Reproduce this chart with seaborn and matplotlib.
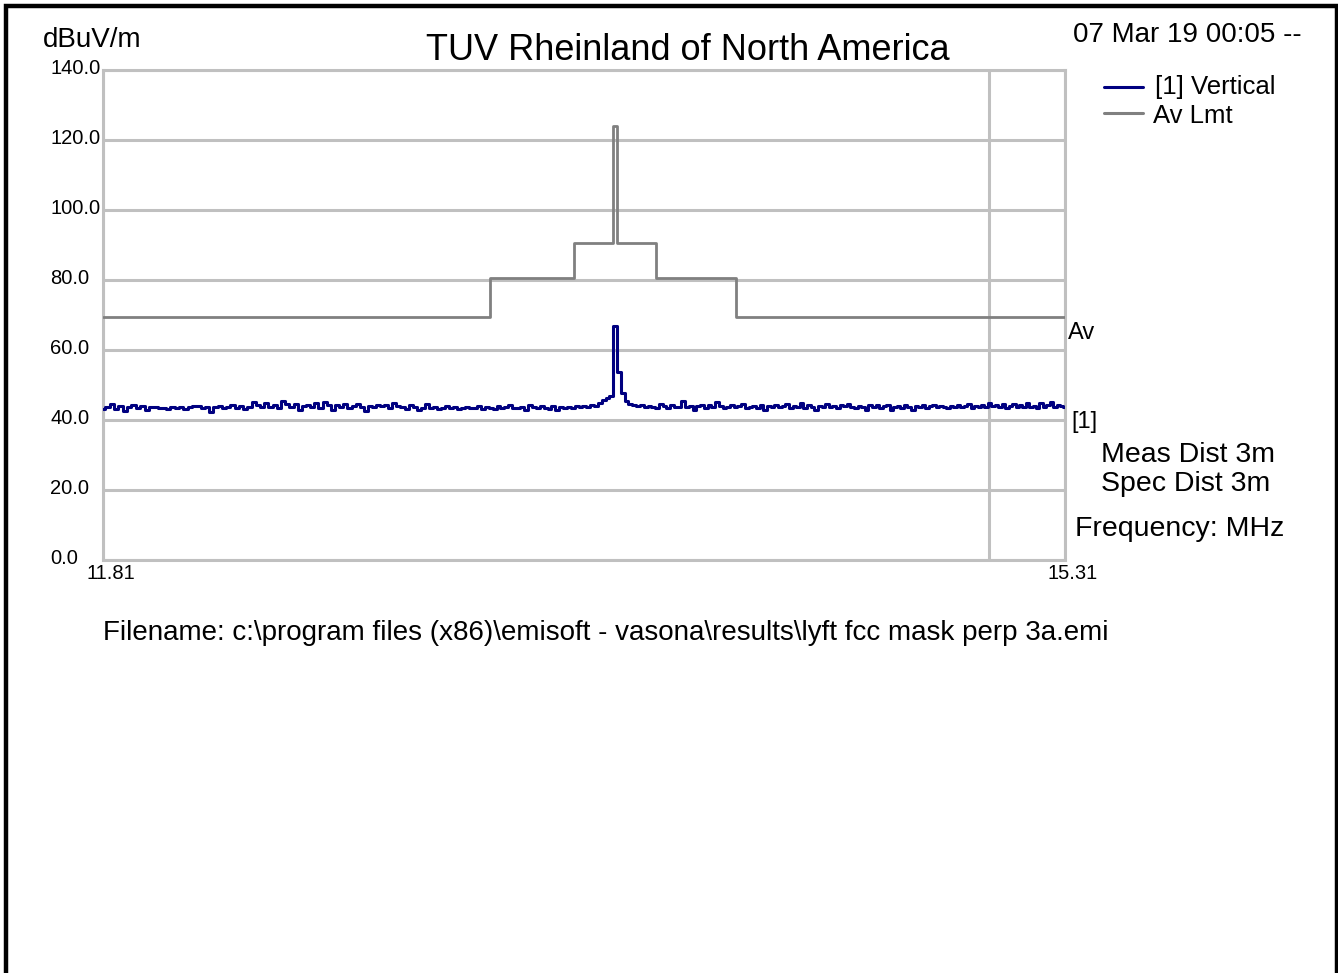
import numpy as np
import pandas as pd
import matplotlib
matplotlib.use("Agg")
import matplotlib.pyplot as plt
import matplotlib.transforms as mtransforms
import seaborn as sns
from matplotlib.lines import Line2D
from matplotlib.patches import Rectangle
from matplotlib.ticker import NullLocator, NullFormatter

# sweep settings (MHz) and number of trace points
sweep_start = 11.81
sweep_stop = 15.31
sweep_points = 251

# [1] Vertical trace, dBuV/m
vertical_dbuv = [
    43.2, 43.8, 44.6, 43.1, 43.9, 42.6, 43.7, 44.2, 43.4, 43.9, 43.0, 43.6, 43.8, 43.3, 43.5, 43.1, 43.6, 43.4, 43.7, 43.2,
    43.6, 43.9, 44.1, 43.5, 43.8, 42.3, 43.6, 44.0, 43.4, 43.7, 44.3, 43.5, 43.9, 43.2, 43.7, 45.2, 44.4, 43.6, 45.0, 43.7,
    44.2, 43.3, 45.4, 44.6, 43.8, 44.5, 42.8, 43.9, 44.4, 43.6, 44.8, 43.5, 45.1, 44.2, 42.9, 44.3, 43.7, 44.6, 43.3, 43.9,
    44.5, 43.8, 42.7, 44.1, 43.6, 44.4, 43.9, 44.2, 43.4, 45.0, 44.1, 43.6, 43.2, 44.3, 43.8, 42.8, 43.4, 44.6, 43.5, 43.7,
    43.2, 43.5, 43.9, 43.4, 43.6, 43.1, 43.5, 43.8, 43.3, 43.4, 43.9, 43.2, 43.6, 43.5, 43.1, 44.1, 43.3, 43.6, 44.3, 43.4,
    43.5, 43.8, 43.0, 44.2, 43.6, 43.3, 43.9, 43.5, 43.1, 44.0, 42.9, 43.7, 43.4, 43.8, 43.5, 43.9, 43.6, 44.1, 43.8, 44.2, 44.0,
    44.8, 45.6, 46.4, 47.0, 66.8, 53.8, 47.6, 45.4, 44.6,
    44.2, 43.9, 44.4, 43.6, 44.1, 43.8, 43.5, 44.6, 43.9, 43.4, 44.2, 43.7, 43.8, 45.3, 43.6, 44.0, 42.8, 43.9, 44.3, 43.5,
    44.4, 43.7, 45.1, 44.0, 43.4, 43.8, 44.2, 43.6, 43.9, 44.6, 43.3, 43.8, 44.1, 43.5, 44.4, 42.8, 44.0, 43.7, 44.3, 43.6,
    43.9, 44.5, 43.4, 44.0, 43.7, 44.8, 43.5, 44.2, 43.6, 42.9, 44.1, 43.8, 44.5, 43.6, 44.0, 43.5, 44.3, 43.9, 44.6, 43.7,
    43.4, 44.1, 43.8, 42.9, 44.2, 43.7, 44.4, 43.5, 43.9, 44.3, 42.8, 43.6, 44.0, 43.5, 44.2, 43.8, 42.9, 44.1, 43.6, 44.4,
    43.5, 43.9, 44.3, 43.6, 44.1, 43.8, 43.4, 44.0, 43.7, 44.2, 43.6, 43.9, 44.5, 43.5, 44.1, 43.8, 44.4, 43.6, 44.8, 43.9,
    44.3, 43.7, 44.6, 43.5, 44.0, 44.7, 43.8, 44.2, 43.6, 44.9, 43.7, 44.1, 43.5, 45.0, 43.8, 44.2, 45.1, 43.6, 44.3, 43.9, 43.7,
]

# FCC 15.225 average limit mask at 3 m
limit_mhz = [11.81, 13.11, 13.41, 13.553, 13.567, 13.71, 14.01, 15.31]
limit_dbuv = [69.5, 80.5, 90.5, 124.0, 90.5, 80.5, 69.5, 69.5]

y_ticks = [0, 20, 40, 60, 80, 100, 120, 140]
x_ticks = [11.81, 15.0, 15.31]
x_tick_labels = ["11.81", "", "15.31"]

NAVY = "#000080"
LIMIT_GRAY = "#808080"
GRID_GRAY = "#c0c0c0"
W, H = 1338, 973


def px(x, y):
    # pixel position in the picture -> figure fraction
    return x / W, 1 - y / H


def main():
    sns.set_theme(style="white")
    plt.rcParams["font.family"] = ["Liberation Sans", "DejaVu Sans"]
    plt.rcParams["text.color"] = "black"
    plt.rcParams["xtick.color"] = "black"
    plt.rcParams["ytick.color"] = "black"

    trace = pd.DataFrame({
        "MHz": np.linspace(sweep_start, sweep_stop, sweep_points),
        "dBuV/m": vertical_dbuv,
    })
    limit = pd.DataFrame({"MHz": limit_mhz, "dBuV/m": limit_dbuv})

    fig = plt.figure(figsize=(W / 100, H / 100), dpi=100)
    fig.patch.set_facecolor("white")
    ax = fig.add_axes([103 / W, 1 - 560 / H, 962 / W, 490 / H])

    sns.lineplot(data=limit, x="MHz", y="dBuV/m", ax=ax, color=LIMIT_GRAY,
                 linewidth=2.0, drawstyle="steps-post", estimator=None,
                 sort=False, zorder=3)
    sns.lineplot(data=trace, x="MHz", y="dBuV/m", ax=ax, color=NAVY,
                 linewidth=2.2, drawstyle="steps-mid", estimator=None,
                 sort=False, zorder=4)

    ax.set_xscale("log")
    ax.set_xlim(sweep_start, sweep_stop)
    ax.set_ylim(0, 140)
    ax.set_xlabel("")
    ax.set_ylabel("")

    ax.set_yticks(y_ticks, labels=[f"{v:.1f}" for v in y_ticks])
    ax.xaxis.set_minor_locator(NullLocator())
    ax.xaxis.set_minor_formatter(NullFormatter())
    ax.set_xticks(x_ticks, labels=x_tick_labels)
    ax.grid(True, color=GRID_GRAY, linewidth=2.2)
    ax.set_axisbelow(True)
    for s in ax.spines.values():
        s.set_color(GRID_GRAY)
        s.set_linewidth(2.2)

    ax.tick_params(axis="y", length=0, pad=38, labelsize=14.5, labelcolor="black")
    ax.tick_params(axis="x", length=0, pad=3, labelsize=14.5, labelcolor="black")
    up = mtransforms.ScaledTranslation(0, 4 / 100, fig.dpi_scale_trans)
    for lab in ax.get_yticklabels():
        lab.set_horizontalalignment("left")
        lab.set_transform(lab.get_transform() + up)
    right = mtransforms.ScaledTranslation(8 / 100, 0, fig.dpi_scale_trans)
    for lab in ax.get_xticklabels():
        lab.set_transform(lab.get_transform() + right)

    # header texts
    fig.text(*px(688, 50), "TUV Rheinland of North America", fontsize=26,
             ha="center", va="center", color="black")
    fig.text(*px(43, 40), "dBuV/m", fontsize=20, ha="left", va="center", color="black")
    fig.text(*px(1073, 35), "07 Mar 19 00:05 --", fontsize=20, ha="left",
             va="center", color="black")

    # legend
    fig.add_artist(Line2D([1104 / W, 1143 / W], [1 - 87 / H] * 2, color=NAVY, lw=2.2))
    fig.add_artist(Line2D([1104 / W, 1143 / W], [1 - 113 / H] * 2, color=LIMIT_GRAY, lw=2.2))
    fig.text(*px(1155, 87), "[1] Vertical", fontsize=18.5, ha="left", va="center", color="black")
    fig.text(*px(1153, 116), "Av Lmt", fontsize=18.5, ha="left", va="center", color="black")

    # right side annotations
    fig.text(*px(1068, 333), "Av", fontsize=17, ha="left", va="center", color="black")
    fig.text(*px(1071, 422), "[1]", fontsize=17, ha="left", va="center", color="black")
    fig.text(*px(1101, 455), "Meas Dist 3m", fontsize=20.5, ha="left", va="center", color="black")
    fig.text(*px(1101, 484), "Spec Dist 3m", fontsize=20.5, ha="left", va="center", color="black")
    fig.text(*px(1075, 529), "Frequency: MHz", fontsize=20.5, ha="left", va="center", color="black")

    fig.text(*px(103, 633),
             "Filename: c:\\program files (x86)\\emisoft - vasona\\results\\lyft fcc mask perp 3a.emi",
             fontsize=20, ha="left", va="center", color="black")

    # outer frame of the printout
    fig.add_artist(Rectangle((5.5 / W, -0.05), 1331 / W, 1.05 - 6.5 / H,
                             transform=fig.transFigure, fill=False,
                             edgecolor="black", linewidth=3.2))

    fig.savefig("out.png", dpi=100, facecolor="white")


main()
